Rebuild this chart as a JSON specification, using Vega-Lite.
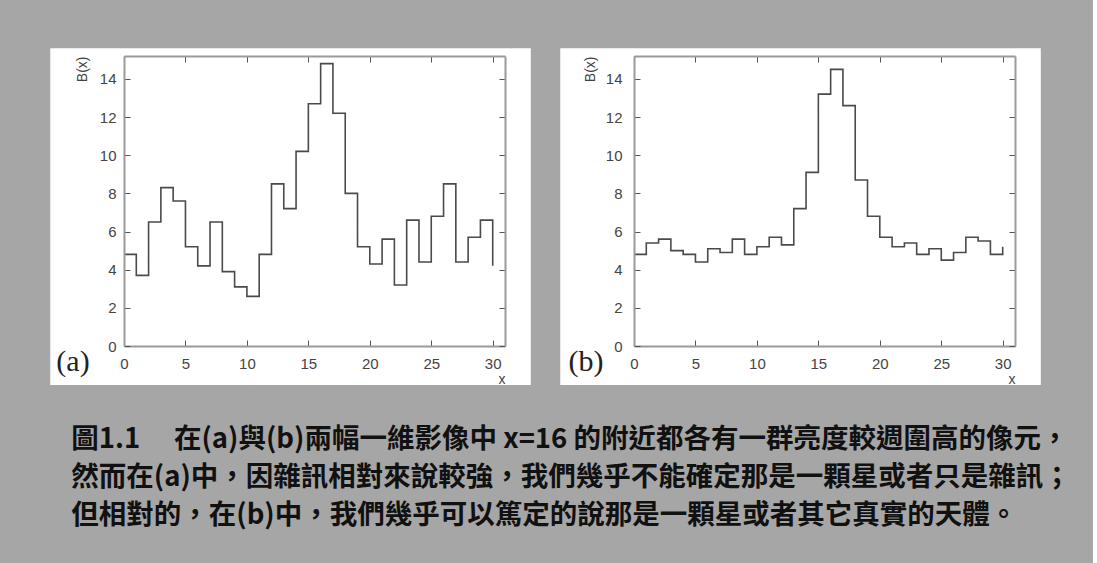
{
  "$schema": "https://vega.github.io/schema/vega-lite/v6.json",
  "background": "#a6a6a6",
  "padding": {"left": 50, "top": 48, "right": 22, "bottom": 36},
  "datasets": {
    "a": [
      {"x": 0, "B": 4.8}, {"x": 1, "B": 3.7}, {"x": 2, "B": 6.5}, {"x": 3, "B": 8.3}, {"x": 4, "B": 7.6},
      {"x": 5, "B": 5.2}, {"x": 6, "B": 4.2}, {"x": 7, "B": 6.5}, {"x": 8, "B": 3.9}, {"x": 9, "B": 3.1},
      {"x": 10, "B": 2.6}, {"x": 11, "B": 4.8}, {"x": 12, "B": 8.5}, {"x": 13, "B": 7.2}, {"x": 14, "B": 10.2},
      {"x": 15, "B": 12.7}, {"x": 16, "B": 14.8}, {"x": 17, "B": 12.2}, {"x": 18, "B": 8.0}, {"x": 19, "B": 5.2},
      {"x": 20, "B": 4.3}, {"x": 21, "B": 5.6}, {"x": 22, "B": 3.2}, {"x": 23, "B": 6.6}, {"x": 24, "B": 4.4},
      {"x": 25, "B": 6.8}, {"x": 26, "B": 8.5}, {"x": 27, "B": 4.4}, {"x": 28, "B": 5.7}, {"x": 29, "B": 6.6},
      {"x": 30, "B": 4.2}
    ],
    "b": [
      {"x": 0, "B": 4.8}, {"x": 1, "B": 5.4}, {"x": 2, "B": 5.6}, {"x": 3, "B": 5.0}, {"x": 4, "B": 4.8},
      {"x": 5, "B": 4.4}, {"x": 6, "B": 5.1}, {"x": 7, "B": 4.9}, {"x": 8, "B": 5.6}, {"x": 9, "B": 4.8},
      {"x": 10, "B": 5.2}, {"x": 11, "B": 5.7}, {"x": 12, "B": 5.3}, {"x": 13, "B": 7.2}, {"x": 14, "B": 9.1},
      {"x": 15, "B": 13.2}, {"x": 16, "B": 14.5}, {"x": 17, "B": 12.6}, {"x": 18, "B": 8.7}, {"x": 19, "B": 6.8},
      {"x": 20, "B": 5.7}, {"x": 21, "B": 5.2}, {"x": 22, "B": 5.4}, {"x": 23, "B": 4.8}, {"x": 24, "B": 5.1},
      {"x": 25, "B": 4.5}, {"x": 26, "B": 4.9}, {"x": 27, "B": 5.7}, {"x": 28, "B": 5.5}, {"x": 29, "B": 4.8},
      {"x": 30, "B": 5.2}
    ],
    "one": [{}]
  },
  "config": {
    "view": {"stroke": null},
    "axis": {
      "grid": false,
      "domain": true, "domainColor": "#9a9a9a", "domainWidth": 2,
      "tickColor": "#555", "tickSize": -6, "tickWidth": 1,
      "labelFont": "Liberation Sans", "labelFontSize": 15, "labelColor": "#444",
      "titleFont": "Liberation Sans", "titleFontSize": 14, "titleFontWeight": "normal", "titleColor": "#444"
    }
  },
  "title": {
    "text": [
      "圖1.1　 在(a)與(b)兩幅一維影像中 x=16 的附近都各有一群亮度較週圍高的像元，",
      "然而在(a)中，因雜訊相對來說較強，我們幾乎不能確定那是一顆星或者只是雜訊；",
      "但相對的，在(b)中，我們幾乎可以篤定的說那是一顆星或者其它真實的天體。"
    ],
    "orient": "bottom", "anchor": "start", "frame": "bounds",
    "font": "Noto Sans CJK TC", "fontSize": 27.5, "fontWeight": "bold", "color": "#111",
    "lineHeight": 38, "offset": 40, "dx": 21
  },
  "spacing": 29,
  "hconcat": [
    {
      "width": 381, "height": 290,
      "resolve": {"axis": {"x": "independent", "y": "independent"}},
      "layer": [
        {
          "data": {"name": "one"},
          "mark": {"type": "rect", "fill": "white"},
          "encoding": {
            "x": {"datum": -6.0, "type": "quantitative", "scale": {"domain": [0, 31], "nice": false}, "axis": null},
            "x2": {"datum": 33.1},
            "y": {"datum": -2.05, "type": "quantitative", "scale": {"domain": [0, 15.2], "nice": false}, "axis": null},
            "y2": {"datum": 15.6}
          }
        },
        {
          "data": {"name": "a"},
          "mark": {"type": "line", "interpolate": "step-after", "color": "#4a4a4a", "strokeWidth": 1.6},
          "encoding": {
            "x": {"field": "x", "type": "quantitative", "scale": {"domain": [0, 31], "nice": false},
                  "axis": {"orient": "bottom", "zindex": 1, "values": [0, 5, 10, 15, 20, 25, 30], "title": "x", "titleAnchor": "end", "labelFlush": false, "labelPadding": 16, "titlePadding": 1}},
            "y": {"field": "B", "type": "quantitative", "scale": {"domain": [0, 15.2], "nice": false},
                  "axis": {"orient": "left", "zindex": 1, "values": [0, 2, 4, 6, 8, 10, 12, 14], "title": "B(x)", "titleAnchor": "end", "labelPadding": 14, "titlePadding": 10}}
          }
        },
        {
          "data": {"name": "one"},
          "mark": {"type": "text", "text": "(a)", "font": "Liberation Serif", "fontSize": 30, "color": "#222"},
          "encoding": {
            "x": {"datum": -4.15, "type": "quantitative", "scale": {"domain": [0, 31], "nice": false},
                  "axis": {"orient": "top", "zindex": 1, "values": [0, 5, 10, 15, 20, 25, 30], "labels": false, "title": null}},
            "y": {"datum": -0.85, "type": "quantitative", "scale": {"domain": [0, 15.2], "nice": false},
                  "axis": {"orient": "right", "zindex": 1, "values": [0, 2, 4, 6, 8, 10, 12, 14], "labels": false, "title": null}}
          }
        }
      ]
    },
    {
      "width": 381, "height": 290,
      "resolve": {"axis": {"x": "independent", "y": "independent"}},
      "layer": [
        {
          "data": {"name": "one"},
          "mark": {"type": "rect", "fill": "white"},
          "encoding": {
            "x": {"datum": -6.0, "type": "quantitative", "scale": {"domain": [0, 31], "nice": false}, "axis": null},
            "x2": {"datum": 33.1},
            "y": {"datum": -2.05, "type": "quantitative", "scale": {"domain": [0, 15.2], "nice": false}, "axis": null},
            "y2": {"datum": 15.6}
          }
        },
        {
          "data": {"name": "b"},
          "mark": {"type": "line", "interpolate": "step-after", "color": "#4a4a4a", "strokeWidth": 1.6},
          "encoding": {
            "x": {"field": "x", "type": "quantitative", "scale": {"domain": [0, 31], "nice": false},
                  "axis": {"orient": "bottom", "zindex": 1, "values": [0, 5, 10, 15, 20, 25, 30], "title": "x", "titleAnchor": "end", "labelFlush": false, "labelPadding": 16, "titlePadding": 1}},
            "y": {"field": "B", "type": "quantitative", "scale": {"domain": [0, 15.2], "nice": false},
                  "axis": {"orient": "left", "zindex": 1, "values": [0, 2, 4, 6, 8, 10, 12, 14], "title": "B(x)", "titleAnchor": "end", "labelPadding": 18, "titlePadding": 8}}
          }
        },
        {
          "data": {"name": "one"},
          "mark": {"type": "text", "text": "(b)", "font": "Liberation Serif", "fontSize": 30, "color": "#222"},
          "encoding": {
            "x": {"datum": -3.9, "type": "quantitative", "scale": {"domain": [0, 31], "nice": false},
                  "axis": {"orient": "top", "zindex": 1, "values": [0, 5, 10, 15, 20, 25, 30], "labels": false, "title": null}},
            "y": {"datum": -0.84, "type": "quantitative", "scale": {"domain": [0, 15.2], "nice": false},
                  "axis": {"orient": "right", "zindex": 1, "values": [0, 2, 4, 6, 8, 10, 12, 14], "labels": false, "title": null}}
          }
        }
      ]
    }
  ]
}
